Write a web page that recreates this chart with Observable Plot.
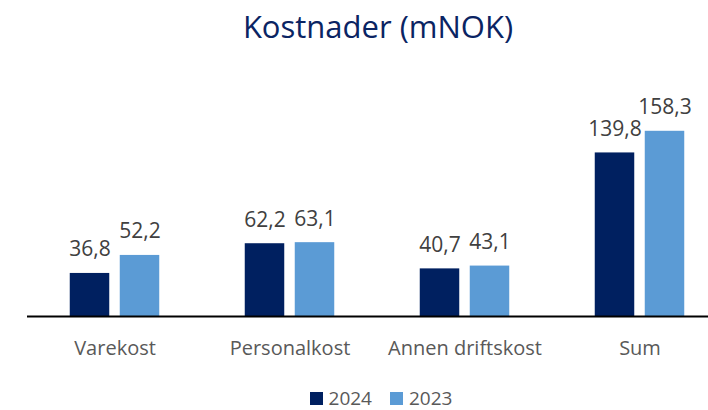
<!DOCTYPE html>
<html>
<head>
<meta charset="utf-8">
<script src="https://cdn.jsdelivr.net/npm/d3@7"></script>
<script src="https://cdn.jsdelivr.net/npm/@observablehq/plot@0.6"></script>
<style>
  body { margin: 0; background: #fff; font-family: "Open Sans", sans-serif; overflow: hidden; }
  #title { height: 60px; line-height: 52px; text-align: center; padding-left: 48px; font-size: 31px; color: #0a2463; width: 708px; box-sizing: border-box; }
  #legend { height: 30px; padding-top: 6px; display: flex; justify-content: center; align-items: center; padding-left: 54px; width: 708px; box-sizing: border-box; font-size: 19px; line-height: 1; color: #595959; }
  .item { display: flex; align-items: center; margin: 0 9px; }
  .sw { width: 13px; height: 13px; margin-right: 6px; }
</style>
</head>
<body>
<div id="title">Kostnader (mNOK)</div>
<div id="chart"></div>
<div id="legend"></div>
<script>
const categories = ["Varekost", "Personalkost", "Annen driftskost", "Sum"];
const series = ["2024", "2023"];
const values2024 = [36.8, 62.2, 40.7, 139.8];
const values2023 = [52.2, 63.1, 43.1, 158.3];
const colors = ["#002060", "#5b9bd5"];

const fmt = v => v.toFixed(1).replace(".", ",");
const d24 = categories.map((c, i) => ({cat: c, v: values2024[i]}));
const d23 = categories.map((c, i) => ({cat: c, v: values2023[i]}));

const band = (728 - 26) / categories.length;
const chart = Plot.plot({
  width: 708,
  height: 320,
  marginLeft: 27,
  marginRight: 0,
  marginTop: 22,
  marginBottom: 64,
  style: {fontFamily: "Open Sans", fontSize: "20px", color: "#595959", background: "#fff"},
  x: {domain: categories, range: [26, 728], padding: 0, label: null},
  y: {domain: [0, 200], axis: null},
  marks: [
    Plot.axisX({tickSize: 0, tickPadding: 24, fontSize: 20, fill: "#595959"}),
    Plot.barY(d24, {x: "cat", y: "v", fill: colors[0], insetLeft: band/2 - 45, insetRight: band/2 + 5}),
    Plot.barY(d23, {x: "cat", y: "v", fill: colors[1], insetLeft: band/2 + 5, insetRight: band/2 - 45}),
    Plot.text(d24, {x: "cat", y: "v", text: d => fmt(d.v), dx: -25, dy: -17, lineAnchor: "bottom", fontSize: 21, fill: "#404040"}),
    Plot.text(d23, {x: "cat", y: "v", text: d => fmt(d.v), dx: 25, dy: -17, lineAnchor: "bottom", fontSize: 21, fill: "#404040"}),
    Plot.ruleY([0], {stroke: "#000", strokeWidth: 2})
  ]
});
document.getElementById("chart").appendChild(chart);

const legend = document.getElementById("legend");
series.forEach((s, i) => {
  const it = document.createElement("div");
  it.className = "item";
  it.innerHTML = `<span class="sw" style="background:${colors[i]}"></span><span>${s}</span>`;
  legend.appendChild(it);
});
</script>
</body>
</html>
